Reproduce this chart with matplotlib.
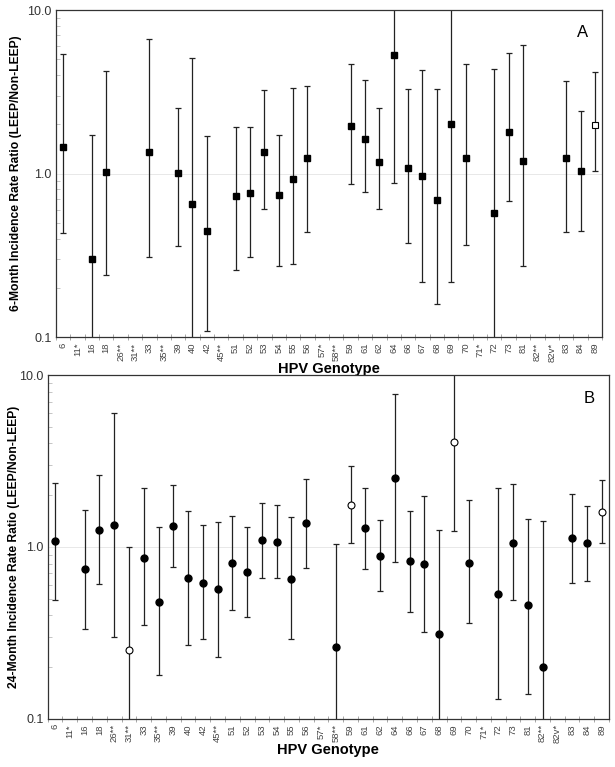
import numpy as np
import matplotlib
matplotlib.use('Agg')
import matplotlib.pyplot as plt
from matplotlib.ticker import FixedLocator, NullFormatter

plt.rcParams['font.family'] = ['Liberation Sans', 'DejaVu Sans']

# genotypes along the x axis
genotypes = ['6', '11*', '16', '18', '26**', '31**', '33', '35**', '39', '40',
             '42', '45**', '51', '52', '53', '54', '55', '56', '57*', '58**',
             '59', '61', '62', '64', '66', '67', '68', '69', '70', '71*',
             '72', '73', '81', '82**', '82v*', '83', '84', '89']
nan = np.nan

# panel A: 6-month incidence rate ratio, lower / upper CI
irr6 = [1.46, nan, 0.30, 1.02, nan, nan, 1.36, nan, 1.01, 0.65,
        0.448, nan, 0.73, 0.76, 1.35, 0.74, 0.93, 1.24, nan, nan,
        1.95, 1.62, 1.17, 5.3, 1.08, 0.96, 0.69, 2.0, 1.25, nan,
        0.57, 1.79, 1.20, nan, nan, 1.25, 1.04, 1.99]
lo6 = [0.43, nan, 0.05, 0.239, nan, nan, 0.309, nan, 0.359, 0.05,
       0.109, nan, 0.258, 0.309, 0.61, 0.27, 0.28, 0.44, nan, nan,
       0.86, 0.77, 0.61, 0.88, 0.378, 0.218, 0.159, 0.218, 0.367, nan,
       0.05, 0.68, 0.27, nan, nan, 0.44, 0.448, 1.04]
hi6 = [5.4, nan, 1.72, 4.23, nan, nan, 6.61, nan, 2.52, 5.06,
       1.69, nan, 1.92, 1.92, 3.25, 1.72, 3.33, 3.44, nan, nan,
       4.65, 3.74, 2.51, 20.0, 3.30, 4.31, 3.30, 20.0, 4.65, nan,
       4.37, 5.45, 6.1, nan, nan, 3.69, 2.41, 4.19]
open6 = ['89']

# panel B: 24-month incidence rate ratio
irr24 = [1.08, nan, 0.74, 1.25, 1.34, 0.25, 0.867, 0.48, 1.32, 0.66,
         0.62, 0.57, 0.81, 0.71, 1.09, 1.07, 0.65, 1.37, nan, 0.26,
         1.76, 1.28, 0.89, 2.52, 0.83, 0.79, 0.31, 4.06, 0.81, nan,
         0.53, 1.06, 0.46, 0.20, nan, 1.12, 1.05, 1.60]
lo24 = [0.49, nan, 0.332, 0.61, 0.30, 0.05, 0.35, 0.18, 0.76, 0.27,
        0.29, 0.23, 0.43, 0.39, 0.66, 0.66, 0.29, 0.755, nan, 0.05,
        1.05, 0.74, 0.55, 0.82, 0.42, 0.32, 0.05, 1.23, 0.36, nan,
        0.13, 0.49, 0.14, 0.05, nan, 0.62, 0.63, 1.05]
hi24 = [2.35, nan, 1.63, 2.61, 6.02, 1.0, 2.19, 1.31, 2.28, 1.62,
        1.34, 1.39, 1.52, 1.31, 1.80, 1.75, 1.49, 2.48, nan, 1.04,
        2.97, 2.21, 1.43, 7.73, 1.61, 1.97, 1.25, 20.0, 1.87, nan,
        2.21, 2.32, 1.46, 1.42, nan, 2.02, 1.72, 2.44]
open24 = ['31**', '59', '69', '89']


def panel(ax, vals, lo, hi, open_set, marker, ylabel, letter, label_x):
    vals = np.array(vals)
    lo = np.array(lo)
    hi = np.array(hi)
    x = np.arange(len(genotypes)) + 0.5
    ok = ~np.isnan(vals)
    ax.axhline(1.0, color='#e4e4e4', lw=0.6, zorder=0)
    ax.errorbar(x[ok], vals[ok], yerr=[vals[ok] - lo[ok], hi[ok] - vals[ok]],
                fmt='none', ecolor='#222222', elinewidth=0.9, capsize=2.2,
                capthick=0.9, zorder=2)
    is_open = np.array([g in open_set for g in genotypes])
    filled = ok & ~is_open
    hollow = ok & is_open
    ax.plot(x[filled], vals[filled], linestyle='none', marker=marker, ms=5.0,
            mfc='black', mec='black', zorder=3)
    ax.plot(x[hollow], vals[hollow], linestyle='none', marker=marker, ms=5.0,
            mfc='white', mec='black', mew=0.8, zorder=3)
    ax.set_yscale('log')
    ax.set_ylim(0.1, 10)
    ax.set_xlim(0, len(genotypes))
    ax.set_yticks([0.1, 1, 10])
    ax.set_yticklabels(['0.1', '1.0', '10.0'])
    ax.yaxis.set_minor_locator(FixedLocator(
        [m * 10.0 ** e for e in (-1, 0) for m in range(2, 10)]))
    ax.yaxis.set_minor_formatter(NullFormatter())
    ax.tick_params(axis='y', which='major', labelsize=9, labelcolor='#333333',
                   length=0, pad=3)
    ax.tick_params(axis='y', which='minor', direction='in', length=3,
                   color='#bbbbbb', width=0.6)
    ax.set_xticks(x)
    ax.set_xticklabels(genotypes, rotation=90, fontsize=6.8, color='#444444')
    ax.xaxis.set_minor_locator(FixedLocator(np.arange(len(genotypes) + 1)))
    ax.tick_params(axis='x', which='major', length=0, pad=4)
    ax.tick_params(axis='x', which='minor', direction='inout', length=4,
                   color='#999999', width=0.6)
    for s in ax.spines.values():
        s.set_linewidth(0.9)
        s.set_color('#333333')
    ax.set_ylabel(ylabel, fontsize=8.7, fontweight='bold')
    ax.yaxis.set_label_coords(label_x, 0.5)
    ax.set_xlabel('HPV Genotype', fontsize=10.5, fontweight='bold', labelpad=0)
    ax.text(0.975, 0.955, letter, transform=ax.transAxes, ha='right', va='top',
            fontsize=12)


fig = plt.figure(figsize=(6.15, 7.67), dpi=100)
ax1 = fig.add_axes([0.091, 0.5606, 0.888, 0.4263])
ax2 = fig.add_axes([0.0776, 0.063, 0.9127, 0.448])

panel(ax1, irr6, lo6, hi6, open6, 's',
      '6-Month Incidence Rate Ratio (LEEP/Non-LEEP)', 'A', -0.063)
panel(ax2, irr24, lo24, hi24, open24, 'o',
      '24-Month Incidence Rate Ratio (LEEP/Non-LEEP)', 'B', -0.049)

fig.savefig('out.png', dpi=100)
